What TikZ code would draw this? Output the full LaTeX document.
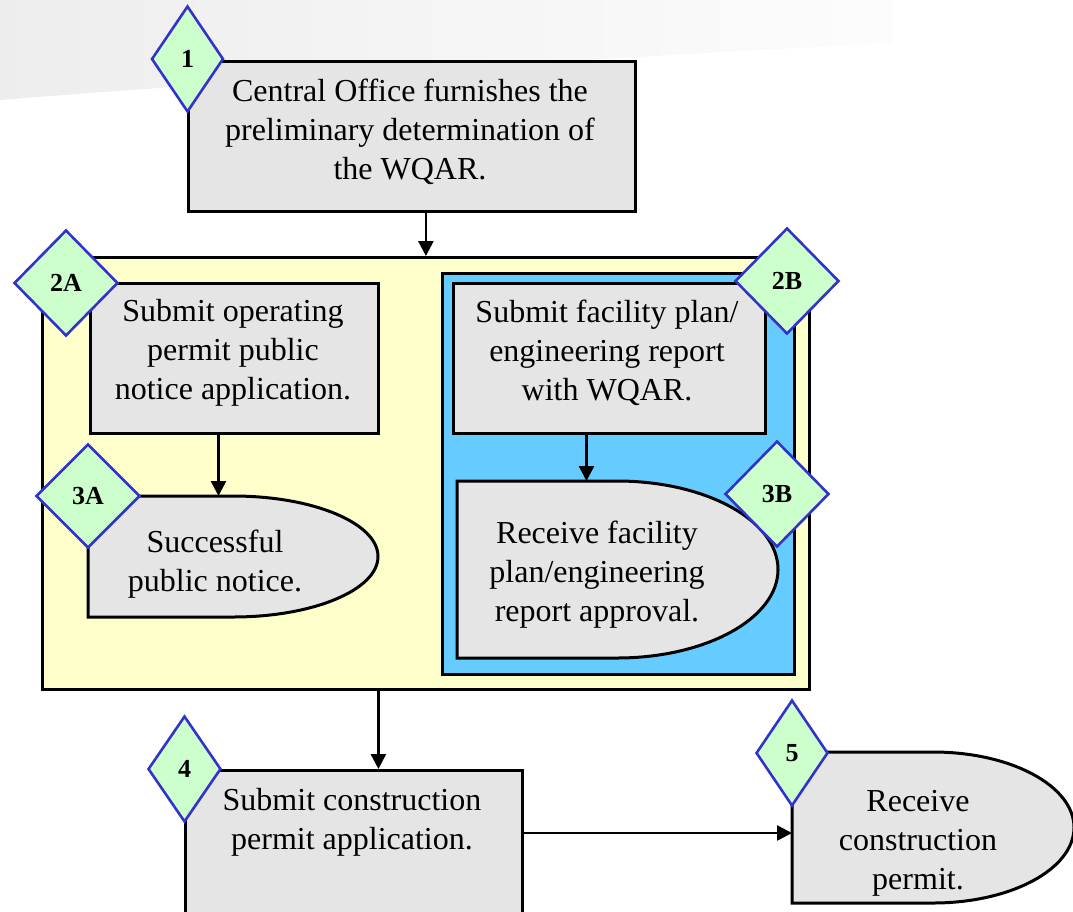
\documentclass[tikz,border=0pt]{standalone}
\usepackage{fontspec}
\setmainfont{Liberation Serif}
\usetikzlibrary{shapes.geometric,arrows.meta,calc}
\definecolor{yel}{HTML}{FFFFCC}
\definecolor{sky}{HTML}{66CCFF}
\definecolor{boxgray}{HTML}{E5E5E5}
\definecolor{mint}{HTML}{CCFFCC}
\definecolor{dblue}{HTML}{3333CC}
\tikzset{
  stepbox/.style={draw=black, line width=3pt, fill=boxgray, inner sep=0pt},
  dshape/.style={draw=black, line width=3pt, fill=boxgray},
  frame/.style={draw=black, line width=2.8pt, inner sep=0pt},
  txt/.style={align=center, inner sep=0pt, font=\fontsize{32}{39}\selectfont},
  badge/.style={shape=diamond, draw=dblue, line width=2.6pt, fill=mint, inner sep=0pt,
    font=\fontsize{26}{28}\selectfont\bfseries},
  arr/.style={line width=2.5pt, -{Triangle[length=15pt,width=15pt]}},
  ghost/.style={inner sep=0pt, outer sep=0pt}
}
\begin{document}
\begin{tikzpicture}[x=1pt,y=-1pt]
\useasboundingbox (0,0) rectangle (1073,911);
\clip (0,0) rectangle (1073,911);
% background swoosh
\shade[left color=black!7, right color=black!1] (0,0) -- (892,0) -- (892,43) .. controls (600,58) and (250,80) .. (0,100) -- cycle;

% containers
\node[frame, fill=yel, minimum width=767pt, minimum height=432pt, anchor=north west] (yl) at (41,256) {};
\node[frame, fill=sky, minimum width=352pt, minimum height=401pt, anchor=north west] (bl) at (441,272) {};

% box 1
\node[stepbox, minimum width=447pt, minimum height=150pt, anchor=north west] (b1) at (187,60) {};
\node[txt] (b1t) at (410,132) {Central Office furnishes the\\preliminary determination of\\the WQAR.};

% box 2A
\node[stepbox, minimum width=288pt, minimum height=150pt, anchor=north west] (b2a) at (89,282) {};
\node[txt] (b2at) at (233,353) {Submit operating\\permit public\\notice application.};

% box 2B
\node[stepbox, minimum width=312pt, minimum height=150pt, anchor=north west] (b2b) at (452,282) {};
\node[txt] (b2bt) at (607,353) {Submit facility plan/\\engineering report\\with WQAR.};

% shape 3A
\node[ghost, minimum width=290pt, minimum height=121pt, anchor=north west] (s3a) at (88,496) {};
\draw[dshape] (s3a.north west) -- ++(145,0) arc[start angle=-90, end angle=90, x radius=145, y radius=60.5] -- (s3a.south west) -- cycle;
\node[txt] (s3at) at (215,564) {Successful\\public notice.};

% shape 3B
\node[ghost, minimum width=321pt, minimum height=177pt, anchor=north west] (s3b) at (457,481) {};
\draw[dshape] (s3b.north west) -- ++(160,0) arc[start angle=-90, end angle=90, x radius=161, y radius=88.5] -- (s3b.south west) -- cycle;
\node[txt] (s3bt) at (597,575) {Receive facility\\plan/engineering\\report approval.};

% box 4
\node[stepbox, minimum width=337pt, minimum height=170pt, anchor=north west] (b4) at (184,769) {};
\node[txt] (b4t) at (352,822) {Submit construction\\permit application.};

% shape 5
\node[ghost, minimum width=282pt, minimum height=151pt, anchor=north west] (s5) at (792,752) {};
\draw[dshape] (s5.north west) -- ++(141,0) arc[start angle=-90, end angle=90, x radius=141, y radius=75.5] -- (s5.south west) -- cycle;
\node[txt] (s5t) at (918,843) {Receive\\construction\\permit.};

% connectors
\draw[arr] (yl.north |- b1.south) -- (yl.north);
\coordinate (a2a) at ($(b2a.south)+(-16,0)$);
\draw[arr] (a2a) -- (a2a |- s3a.north);
\coordinate (a2b) at ($(b2b.south)+(-23,0)$);
\draw[arr] (a2b) -- (a2b |- s3b.north);
\coordinate (ay) at ($(yl.south)+(-47.5,0)$);
\draw[arr] (ay) -- (ay |- b4.north);
\coordinate (a4) at ($(b4.east)+(0,-22.5)$);
\draw[arr] (a4) -- (a4 -| s5.west);

% badges
\node[badge, minimum width=72pt, minimum height=106pt] (d1) at (187.5,59) {1};
\node[badge, minimum width=104pt, minimum height=106pt] (d2a) at (66,283) {2A};
\node[badge, minimum width=104pt, minimum height=106pt] (d2b) at (787,281) {2B};
\node[badge, minimum width=104pt, minimum height=104pt] (d3a) at (88,496) {3A};
\node[badge, minimum width=104pt, minimum height=106pt] (d3b) at (777,494) {3B};
\node[badge, minimum width=73pt, minimum height=106pt] (d4) at (184.5,769) {4};
\node[badge, minimum width=72pt, minimum height=106pt] (d5) at (792,753) {5};
\end{tikzpicture}
\end{document}
